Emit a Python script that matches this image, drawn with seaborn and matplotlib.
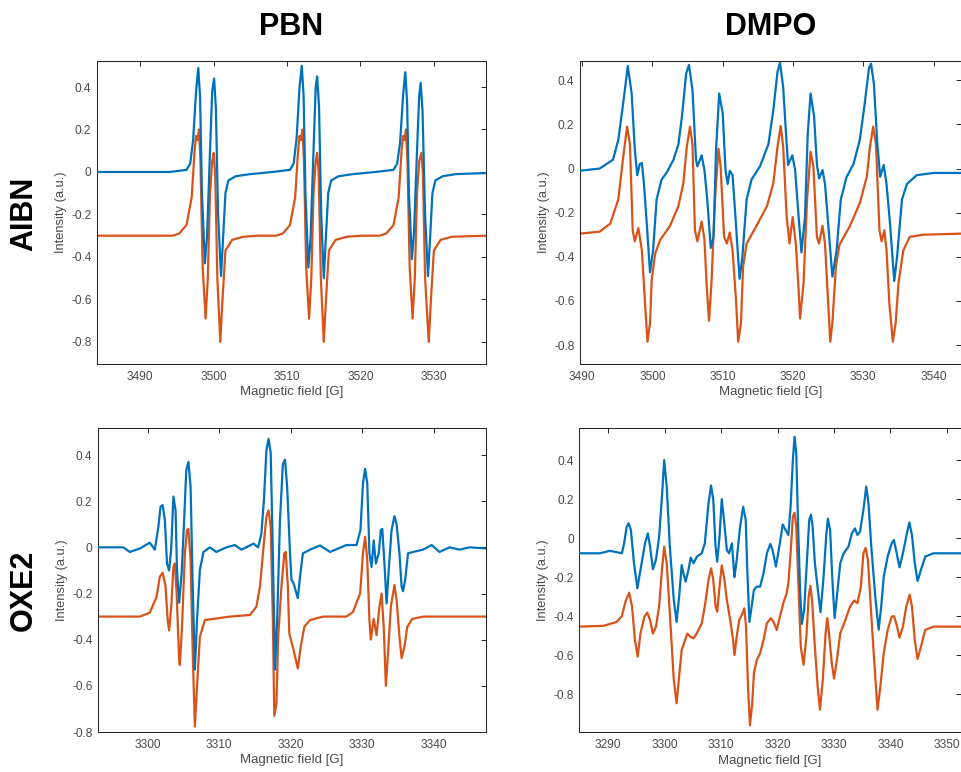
import numpy as np
import pandas as pd
import matplotlib
matplotlib.use("Agg")
import matplotlib.pyplot as plt
import seaborn as sns

# ---------------- data ----------------
col_titles = ["PBN", "DMPO"]
row_titles = ["AIBN", "OXE2"]
exp_color = "#0072BD"
sim_color = "#D95319"

# PBN / AIBN
pbn_aibn_exp_x = [3484.1, 3494.0, 3496.3, 3496.8, 3497.2, 3497.6, 3497.9, 3498.15, 3498.4, 3498.8, 3499.1, 3499.5, 3499.8, 3500.06, 3500.3, 3500.6, 3501.0, 3501.3, 3501.6, 3502.0, 3503.0, 3505.0, 3508.0,
                  3510.4, 3510.9, 3511.3, 3511.7, 3512.0, 3512.25, 3512.5, 3512.9, 3513.2, 3513.6, 3513.9, 3514.1, 3514.35, 3514.65, 3515.0, 3515.3, 3515.6, 3516.0, 3517.0, 3519.0, 3522.0,
                  3524.5, 3525.0, 3525.4, 3525.8, 3526.1, 3526.35, 3526.6, 3527.0, 3527.3, 3527.7, 3528.0, 3528.2, 3528.45, 3528.8, 3529.2, 3529.5, 3529.8, 3530.2, 3531.2, 3533.0, 3537.1]
pbn_aibn_exp_y = [0.0, 0.0, 0.01, 0.04, 0.15, 0.38, 0.49, 0.35, -0.10, -0.43, -0.30, 0.10, 0.38, 0.44, 0.30, -0.20, -0.49, -0.30, -0.10, -0.04, -0.02, -0.01, 0.0,
                  0.01, 0.04, 0.16, 0.40, 0.50, 0.36, -0.10, -0.45, -0.31, 0.10, 0.40, 0.45, 0.31, -0.20, -0.50, -0.30, -0.10, -0.04, -0.02, -0.01, 0.0,
                  0.01, 0.04, 0.14, 0.36, 0.47, 0.33, -0.10, -0.41, -0.28, 0.10, 0.36, 0.42, 0.29, -0.20, -0.49, -0.30, -0.10, -0.04, -0.02, -0.01, -0.005]
pbn_aibn_sim_x = [3484.1, 3494.4, 3495.3, 3496.3, 3497.0, 3497.4, 3497.6, 3497.8, 3498.0, 3498.2, 3498.5, 3498.9, 3499.2, 3499.5, 3499.8, 3500.0, 3500.2, 3500.5, 3500.9, 3501.2, 3501.6, 3502.5, 3504.0, 3506.0,
                  3508.5, 3509.4, 3510.4, 3511.1, 3511.5, 3511.7, 3511.9, 3512.1, 3512.3, 3512.6, 3513.0, 3513.3, 3513.6, 3513.9, 3514.1, 3514.3, 3514.6, 3515.0, 3515.3, 3515.7, 3516.6, 3518.1, 3520.1,
                  3522.6, 3523.5, 3524.5, 3525.2, 3525.6, 3525.8, 3526.0, 3526.2, 3526.4, 3526.7, 3527.1, 3527.4, 3527.7, 3528.0, 3528.3, 3528.5, 3528.8, 3529.3, 3529.6, 3530.0, 3530.9, 3532.4, 3537.1]
pbn_aibn_sim_y = [-0.30, -0.30, -0.29, -0.25, -0.12, 0.10, 0.17, 0.15, 0.20, 0.05, -0.45, -0.69, -0.50, -0.10, 0.05, 0.09, 0.0, -0.50, -0.80, -0.60, -0.37, -0.32, -0.305, -0.30,
                  -0.30, -0.29, -0.25, -0.12, 0.10, 0.17, 0.15, 0.20, 0.05, -0.45, -0.69, -0.50, -0.10, 0.05, 0.09, 0.0, -0.50, -0.80, -0.60, -0.37, -0.32, -0.305, -0.30,
                  -0.30, -0.29, -0.25, -0.12, 0.10, 0.17, 0.15, 0.20, 0.05, -0.45, -0.69, -0.50, -0.10, 0.05, 0.09, 0.0, -0.50, -0.80, -0.60, -0.37, -0.32, -0.305, -0.30]

# DMPO / AIBN
dmpo_aibn_exp_x = [3489.7, 3492.5, 3494.4, 3495.15, 3495.9, 3496.5, 3497.05, 3497.5, 3497.85, 3498.2, 3498.5, 3498.8, 3499.2, 3499.66, 3500.1, 3500.6, 3501.3, 3502.0, 3503.0, 3503.7, 3504.2, 3504.8, 3505.2, 3505.7, 3506.2, 3506.4, 3507.0, 3507.4, 3507.8, 3508.3, 3508.7, 3509.05, 3509.5, 3510.0, 3510.4, 3510.7, 3511.0, 3511.4, 3511.75, 3512.4, 3512.8, 3513.4, 3514.1, 3515.3, 3516.5, 3517.2, 3517.8, 3518.15, 3518.6, 3519.0, 3519.3, 3519.9, 3520.3, 3520.8, 3521.2, 3521.7, 3522.1, 3522.5, 3523.0, 3523.4, 3523.7, 3524.2, 3524.55, 3525.0, 3525.6, 3526.2, 3526.8, 3527.6, 3528.6, 3529.5, 3530.2, 3530.8, 3531.1, 3531.5, 3532.0, 3532.4, 3532.9, 3533.3, 3533.8, 3534.4, 3534.8, 3535.5, 3536.2, 3537.6, 3540.0, 3544.0]
dmpo_aibn_exp_y = [-0.01, 0.0, 0.04, 0.13, 0.31, 0.465, 0.34, 0.084, -0.03, 0.02, 0.025, -0.07, -0.25, -0.47, -0.37, -0.14, -0.05, -0.02, 0.04, 0.11, 0.235, 0.43, 0.47, 0.356, 0.04, 0.01, 0.06, -0.007, -0.14, -0.36, -0.31, 0.084, 0.34, 0.25, -0.007, -0.07, -0.01, -0.03, -0.19, -0.50, -0.40, -0.14, -0.05, 0.01, 0.11, 0.265, 0.44, 0.48, 0.37, 0.16, 0.016, 0.06, -0.007, -0.22, -0.38, -0.22, 0.16, 0.34, 0.235, 0.02, -0.045, -0.007, -0.07, -0.25, -0.49, -0.37, -0.14, -0.04, 0.02, 0.13, 0.295, 0.454, 0.475, 0.386, 0.11, -0.037, 0.016, -0.07, -0.25, -0.51, -0.40, -0.14, -0.07, -0.03, -0.02, -0.02]
dmpo_aibn_sim_x = [3489.7, 3492.5, 3494.0, 3495.15, 3495.8, 3496.4, 3496.8, 3497.2, 3497.5, 3498.0, 3498.5, 3498.95, 3499.3, 3499.66, 3499.9, 3500.4, 3501.1, 3502.5, 3503.7, 3504.4, 3504.9, 3505.35, 3505.7, 3506.05, 3506.4, 3507.0, 3507.4, 3507.7, 3508.05, 3508.4, 3508.9, 3509.4, 3509.7, 3510.2, 3510.6, 3511.0, 3511.4, 3511.9, 3512.2, 3512.6, 3512.9, 3513.4, 3514.8, 3516.3, 3517.2, 3517.8, 3518.25, 3518.6, 3519.1, 3519.5, 3519.95, 3520.4, 3520.8, 3521.0, 3521.5, 3522.0, 3522.5, 3522.9, 3523.4, 3523.7, 3524.2, 3524.55, 3524.9, 3525.3, 3525.6, 3526.1, 3526.6, 3528.1, 3529.5, 3530.5, 3530.95, 3531.4, 3531.8, 3532.3, 3532.6, 3533.0, 3533.3, 3533.7, 3534.2, 3534.6, 3535.0, 3535.7, 3536.6, 3538.5, 3544.0]
dmpo_aibn_sim_y = [-0.295, -0.286, -0.25, -0.14, 0.04, 0.19, 0.11, -0.28, -0.33, -0.27, -0.37, -0.61, -0.785, -0.70, -0.505, -0.385, -0.324, -0.26, -0.17, -0.067, 0.10, 0.19, 0.11, -0.28, -0.33, -0.24, -0.32, -0.52, -0.69, -0.52, -0.14, 0.09, 0.01, -0.31, -0.34, -0.29, -0.37, -0.60, -0.785, -0.70, -0.445, -0.34, -0.26, -0.17, -0.067, 0.10, 0.193, 0.10, -0.22, -0.34, -0.22, -0.34, -0.55, -0.68, -0.52, -0.14, 0.076, 0.01, -0.31, -0.34, -0.26, -0.34, -0.55, -0.785, -0.70, -0.445, -0.346, -0.26, -0.157, -0.037, 0.10, 0.19, 0.11, -0.28, -0.33, -0.28, -0.37, -0.61, -0.785, -0.70, -0.52, -0.37, -0.31, -0.30, -0.295]

# PBN / OXE2
pbn_oxe2_exp_x = [3293.06, 3294.7, 3296.6, 3297.5, 3298.9, 3300.3, 3301.0, 3301.5, 3301.8, 3302.1, 3302.4, 3302.7, 3303.0, 3303.3, 3303.6, 3303.9, 3304.1, 3304.4, 3304.75, 3305.1, 3305.4, 3305.7, 3306.0, 3306.3, 3306.6, 3306.9, 3307.3, 3307.8, 3308.7, 3309.6, 3311.0, 3312.2, 3313.1, 3314.8, 3315.45, 3315.9, 3316.25, 3316.6, 3316.9, 3317.2, 3317.5, 3317.8, 3318.1, 3318.5, 3318.9, 3319.2, 3319.5, 3319.9, 3320.1, 3320.4, 3320.8, 3321.0, 3321.3, 3321.7, 3322.7, 3324.1, 3325.5, 3327.8, 3329.2, 3329.75, 3330.1, 3330.4, 3330.7, 3331.0, 3331.3, 3331.6, 3331.9, 3332.3, 3332.6, 3332.8, 3333.1, 3333.4, 3333.7, 3334.1, 3334.5, 3334.8, 3335.2, 3335.5, 3335.7, 3336.0, 3336.4, 3337.1, 3338.5, 3339.7, 3340.8, 3342.2, 3343.6, 3345.0, 3347.3]
pbn_oxe2_exp_y = [0.0, 0.0, 0.0, -0.02, -0.005, 0.02, -0.01, 0.09, 0.176, 0.183, 0.12, -0.07, -0.10, 0.0, 0.22, 0.16, -0.10, -0.24, -0.113, 0.12, 0.335, 0.37, 0.263, -0.17, -0.53, -0.315, -0.098, -0.02, 0.0, -0.02, 0.0, 0.01, -0.01, 0.016, 0.0, 0.06, 0.205, 0.42, 0.47, 0.41, -0.026, -0.53, -0.315, 0.12, 0.36, 0.38, 0.263, -0.026, -0.14, -0.156, -0.20, -0.22, -0.127, -0.026, -0.01, 0.008, -0.02, 0.01, 0.01, 0.075, 0.277, 0.34, 0.277, -0.026, -0.085, 0.03, -0.07, -0.026, 0.075, 0.08, -0.07, -0.243, -0.098, 0.075, 0.135, 0.10, -0.026, -0.17, -0.19, -0.14, -0.026, -0.02, -0.01, 0.01, -0.02, 0.0, -0.01, 0.0, -0.005]
pbn_oxe2_sim_x = [3293.06, 3298.9, 3300.3, 3301.25, 3301.7, 3302.1, 3302.5, 3302.8, 3303.0, 3303.3, 3303.6, 3303.8, 3304.05, 3304.4, 3304.5, 3304.8, 3305.2, 3305.5, 3305.7, 3306.0, 3306.3, 3306.6, 3306.9, 3307.3, 3308.0, 3309.2, 3311.5, 3314.3, 3315.2, 3315.7, 3316.2, 3316.6, 3316.9, 3317.2, 3317.5, 3317.7, 3318.0, 3318.25, 3318.7, 3319.1, 3319.3, 3319.6, 3319.8, 3320.1, 3320.4, 3320.8, 3321.0, 3321.4, 3321.9, 3322.7, 3324.5, 3327.8, 3328.7, 3329.7, 3330.1, 3330.4, 3330.7, 3331.0, 3331.2, 3331.6, 3332.0, 3332.4, 3332.7, 3333.0, 3333.3, 3333.6, 3334.0, 3334.5, 3334.8, 3335.2, 3335.5, 3335.9, 3336.3, 3337.0, 3338.5, 3347.3]
pbn_oxe2_sim_y = [-0.30, -0.30, -0.283, -0.214, -0.127, -0.11, -0.17, -0.315, -0.36, -0.257, -0.084, -0.07, -0.199, -0.488, -0.51, -0.344, -0.026, 0.075, 0.08, -0.055, -0.46, -0.777, -0.604, -0.387, -0.315, -0.31, -0.30, -0.293, -0.257, -0.17, 0.003, 0.133, 0.16, 0.09, -0.315, -0.73, -0.68, -0.387, -0.17, -0.026, -0.02, -0.17, -0.373, -0.41, -0.445, -0.50, -0.524, -0.43, -0.344, -0.315, -0.30, -0.30, -0.28, -0.20, -0.026, 0.046, -0.055, -0.315, -0.40, -0.31, -0.38, -0.257, -0.20, -0.344, -0.60, -0.46, -0.257, -0.163, -0.228, -0.387, -0.48, -0.43, -0.344, -0.31, -0.30, -0.30]

# DMPO / OXE2
dmpo_oxe2_exp_x = [3284.86, 3288.5, 3290.3, 3292.4, 3292.8, 3293.25, 3293.6, 3294.0, 3294.55, 3295.15, 3295.7, 3296.5, 3297.0, 3297.4, 3297.9, 3298.45, 3299.0, 3299.5, 3299.9, 3300.35, 3300.9, 3301.6, 3302.1, 3302.6, 3303.0, 3303.3, 3303.7, 3304.2, 3304.6, 3305.1, 3305.7, 3306.55, 3307.1, 3307.75, 3308.2, 3308.6, 3309.0, 3309.3, 3309.7, 3310.1, 3310.5, 3311.0, 3311.4, 3311.9, 3312.2, 3312.35, 3312.75, 3313.35, 3313.9, 3314.35, 3314.6, 3315.0, 3315.4, 3315.8, 3316.3, 3316.9, 3317.5, 3318.1, 3318.7, 3319.1, 3319.7, 3320.3, 3320.9, 3321.4, 3321.9, 3322.3, 3322.7, 3323.0, 3323.3, 3323.6, 3324.0, 3324.3, 3324.7, 3325.2, 3325.6, 3325.9, 3326.2, 3326.6, 3327.2, 3327.6, 3328.1, 3328.6, 3328.9, 3329.3, 3329.7, 3330.1, 3330.5, 3331.1, 3331.7, 3332.55, 3333.15, 3333.7, 3334.15, 3334.6, 3335.2, 3335.7, 3336.1, 3336.6, 3337.3, 3337.9, 3338.35, 3338.8, 3339.5, 3340.2, 3340.6, 3341.1, 3341.6, 3342.2, 3342.9, 3343.35, 3343.8, 3344.3, 3344.8, 3345.4, 3346.15, 3347.6, 3352.7]
dmpo_oxe2_exp_y = [-0.078, -0.078, -0.065, -0.078, -0.027, 0.059, 0.076, 0.042, -0.13, -0.257, -0.163, -0.027, 0.024, -0.044, -0.16, -0.11, 0.007, 0.21, 0.40, 0.264, -0.044, -0.317, -0.43, -0.283, -0.138, -0.18, -0.223, -0.163, -0.10, -0.129, -0.095, -0.078, -0.027, 0.178, 0.27, 0.195, -0.044, -0.121, 0.007, 0.20, 0.093, -0.061, -0.078, -0.027, -0.146, -0.20, -0.11, 0.059, 0.161, 0.093, -0.146, -0.43, -0.35, -0.266, -0.249, -0.249, -0.18, -0.078, -0.03, -0.061, -0.146, -0.044, 0.07, 0.042, 0.016, 0.161, 0.40, 0.52, 0.435, 0.093, -0.283, -0.44, -0.369, -0.112, 0.093, 0.12, 0.059, -0.129, -0.283, -0.38, -0.215, 0.007, 0.10, 0.042, -0.215, -0.41, -0.30, -0.129, -0.078, -0.044, 0.024, 0.05, 0.016, 0.033, 0.144, 0.264, 0.178, -0.044, -0.30, -0.47, -0.352, -0.198, -0.095, -0.027, -0.01, -0.078, -0.15, -0.078, 0.024, 0.08, 0.016, -0.129, -0.22, -0.163, -0.095, -0.078, -0.078]
dmpo_oxe2_sim_x = [3284.86, 3289.1, 3291.5, 3292.4, 3293.1, 3293.7, 3294.2, 3294.7, 3295.2, 3295.7, 3296.4, 3296.9, 3297.4, 3297.9, 3298.45, 3299.0, 3299.5, 3299.9, 3300.35, 3300.9, 3301.6, 3302.1, 3302.6, 3303.0, 3303.6, 3304.0, 3304.5, 3305.1, 3305.7, 3306.55, 3307.1, 3307.75, 3308.2, 3308.6, 3309.0, 3309.3, 3309.7, 3310.1, 3310.5, 3311.0, 3311.6, 3312.1, 3312.35, 3312.75, 3313.2, 3313.65, 3314.1, 3314.4, 3314.75, 3315.1, 3315.5, 3315.8, 3316.3, 3316.9, 3317.5, 3318.1, 3318.8, 3319.25, 3319.85, 3320.4, 3321.0, 3321.6, 3321.9, 3322.3, 3322.7, 3323.0, 3323.3, 3323.7, 3324.1, 3324.6, 3325.1, 3325.5, 3325.8, 3326.1, 3326.6, 3327.1, 3327.5, 3328.0, 3328.5, 3328.8, 3329.1, 3329.6, 3330.0, 3330.5, 3331.1, 3332.0, 3332.85, 3333.6, 3334.15, 3334.75, 3335.2, 3335.6, 3336.0, 3336.5, 3337.1, 3337.7, 3338.2, 3338.8, 3339.5, 3340.2, 3340.6, 3341.1, 3341.6, 3342.2, 3342.8, 3343.4, 3343.8, 3344.3, 3344.8, 3345.4, 3346.15, 3347.6, 3352.7]
dmpo_oxe2_sim_y = [-0.454, -0.45, -0.43, -0.40, -0.32, -0.28, -0.35, -0.52, -0.608, -0.488, -0.403, -0.382, -0.42, -0.49, -0.454, -0.35, -0.163, -0.044, -0.129, -0.386, -0.727, -0.847, -0.693, -0.574, -0.522, -0.49, -0.505, -0.514, -0.488, -0.437, -0.35, -0.215, -0.155, -0.215, -0.35, -0.377, -0.249, -0.14, -0.198, -0.317, -0.42, -0.522, -0.60, -0.505, -0.42, -0.394, -0.36, -0.454, -0.762, -0.96, -0.847, -0.693, -0.625, -0.59, -0.522, -0.437, -0.411, -0.428, -0.471, -0.403, -0.334, -0.283, -0.232, -0.078, 0.11, 0.13, 0.059, -0.249, -0.557, -0.65, -0.505, -0.30, -0.245, -0.317, -0.557, -0.762, -0.88, -0.727, -0.488, -0.41, -0.488, -0.642, -0.72, -0.625, -0.488, -0.42, -0.35, -0.32, -0.334, -0.249, -0.078, -0.05, -0.112, -0.35, -0.625, -0.88, -0.762, -0.59, -0.471, -0.403, -0.40, -0.445, -0.51, -0.454, -0.35, -0.29, -0.35, -0.522, -0.62, -0.557, -0.471, -0.454, -0.454]

panels = [
    dict(exp=(pbn_aibn_exp_x, pbn_aibn_exp_y), sim=(pbn_aibn_sim_x, pbn_aibn_sim_y),
         xlim=(3484.1, 3537.1), ylim=(-0.904, 0.524), xticks=[3490, 3500, 3510, 3520, 3530],
         rect=[0.1008, 0.5285, 0.4044, 0.3929]),
    dict(exp=(dmpo_aibn_exp_x, dmpo_aibn_exp_y), sim=(dmpo_aibn_sim_x, dmpo_aibn_sim_y),
         xlim=(3489.7, 3543.9), ylim=(-0.886, 0.4875), xticks=[3490, 3500, 3510, 3520, 3530, 3540],
         rect=[0.6029, 0.5285, 0.3961, 0.3925]),
    dict(exp=(pbn_oxe2_exp_x, pbn_oxe2_exp_y), sim=(pbn_oxe2_sim_x, pbn_oxe2_sim_y),
         xlim=(3293.06, 3347.3), ylim=(-0.80, 0.517), xticks=[3300, 3310, 3320, 3330, 3340],
         rect=[0.1019, 0.0518, 0.4033, 0.3938]),
    dict(exp=(dmpo_oxe2_exp_x, dmpo_oxe2_exp_y), sim=(dmpo_oxe2_sim_x, dmpo_oxe2_sim_y),
         xlim=(3284.86, 3352.5), ylim=(-0.996, 0.563), xticks=[3290, 3300, 3310, 3320, 3330, 3340, 3350],
         rect=[0.6022, 0.0514, 0.3968, 0.3938]),
]
yticks = [-0.8, -0.6, -0.4, -0.2, 0, 0.2, 0.4]
ytick_labels = ["-0.8", "-0.6", "-0.4", "-0.2", "0", "0.2", "0.4"]

# ---------------- plotting ----------------
sns.set_style("white")
plt.rcParams["font.family"] = ["Liberation Sans", "DejaVu Sans"]

fig = plt.figure(figsize=(9.62, 7.72), dpi=100)
fig.patch.set_facecolor("white")

for p in panels:
    ax = fig.add_axes(p["rect"])
    for key, color, z in (("exp", exp_color, 3), ("sim", sim_color, 2)):
        xs, ys = p[key]
        df = pd.DataFrame({"x": xs, "y": ys})
        sns.lineplot(data=df, x="x", y="y", ax=ax, color=color, linewidth=1.6,
                     sort=False, estimator=None, zorder=z)
    ax.set_xlim(*p["xlim"])
    ax.set_ylim(*p["ylim"])
    ax.set_xticks(p["xticks"])
    ax.set_xticklabels([str(t) for t in p["xticks"]])
    ax.set_yticks(yticks)
    ax.set_yticklabels(ytick_labels)
    ax.tick_params(direction="in", top=True, right=True, length=3.5, width=0.7,
                   labelsize=8.6, colors="#262626", labelcolor="#4a4a4a")
    ax.tick_params(axis="x", pad=5)
    ax.tick_params(axis="y", pad=4)
    for s in ax.spines.values():
        s.set_color("#262626")
        s.set_linewidth(0.75)
    ax.set_xlabel("Magnetic field [G]", fontsize=9.5, color="#4a4a4a", labelpad=2.5)
    ax.set_ylabel("Intensity (a.u.)", fontsize=9.3, color="#4a4a4a", labelpad=3)
    ax.set_facecolor("white")

# column titles
fig.text(291.5 / 962, 1 - 27 / 772, col_titles[0], ha="center", va="center",
         fontsize=22, fontweight="bold", color="black")
fig.text(770.5 / 962, 1 - 27 / 772, col_titles[1], ha="center", va="center",
         fontsize=22, fontweight="bold", color="black")
# row titles
fig.text(24 / 962, 1 - 214 / 772, row_titles[0], ha="center", va="center",
         fontsize=22, fontweight="bold", rotation=90, color="black")
fig.text(24 / 962, 1 - 590 / 772, row_titles[1], ha="center", va="center",
         fontsize=22, fontweight="bold", rotation=90, color="black")

fig.savefig("out.png", dpi=100, facecolor="white")
